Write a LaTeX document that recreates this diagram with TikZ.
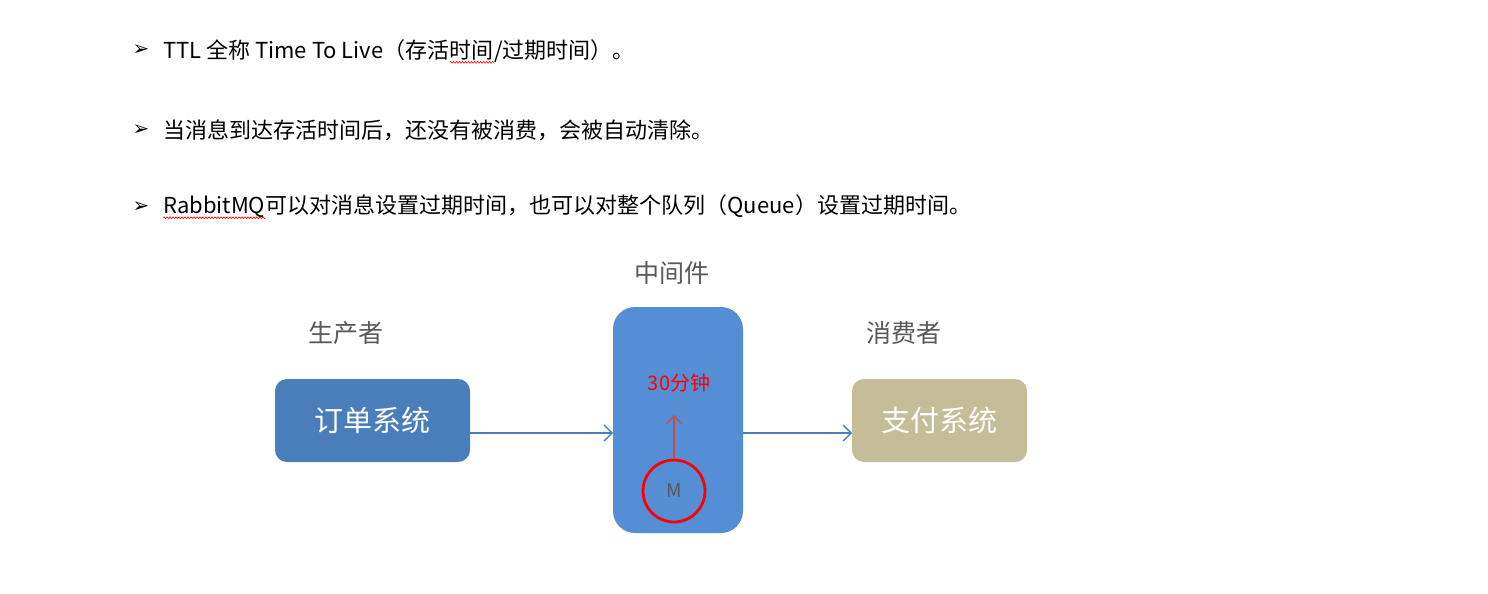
\documentclass[tikz,border=0pt]{standalone}
\usepackage{fontspec}
\setmainfont{Noto Sans CJK SC}
\newfontfamily\dejavu{DejaVu Sans}
\usetikzlibrary{arrows.meta,decorations.pathmorphing}
\definecolor{boxblue}{HTML}{4A7EBB}
\definecolor{midblue}{HTML}{558ED5}
\definecolor{tan}{HTML}{C4BD97}
\definecolor{graytxt}{HTML}{595959}
\definecolor{arrred}{HTML}{C0504D}
\tikzset{
  bodytext/.style={anchor=west, inner sep=0pt, font=\fontsize{22}{22}\selectfont},
  bodypart/.style={anchor=base west, inner sep=0pt, font=\fontsize{22}{22}\selectfont},
  bulletmark/.style={anchor=center, inner sep=0pt, font=\dejavu\fontsize{20}{20}\selectfont},
  lbl/.style={inner sep=0pt, text=graytxt, font=\fontsize{25}{25}\selectfont},
  sysbox/.style={rounded corners=12pt, minimum width=195pt, minimum height=83pt, inner sep=0pt, text=white, font=\fontsize{29}{29}\selectfont},
  flow/.style={draw=boxblue, line width=1.4pt, -{Straight Barb[length=8pt,width=16pt,line width=1.4pt]}},
  squig/.style={red, line width=0.6pt, decorate, decoration={snake, amplitude=0.9pt, segment length=3pt}}
}
\begin{document}
\begin{tikzpicture}[x=1pt,y=-1pt]
\useasboundingbox[fill=white] (0,0) rectangle (1488,594);

% bullets
\node[bulletmark] (b1) at (141,50) {➢};
\node[bulletmark] (b2) at (141,130) {➢};
\node[bulletmark] (b3) at (141,207) {➢};

% line 1 (split so the spell-check mark sits under 时间)
\node[bodytext] (t1a) at (163,50) {TTL 全称 Time To Live（存活};
\node[bodypart] (t1b) at (t1a.base east) {时间};
\node[bodypart] (t1c) at (t1b.base east) {/过期时间）。};
\draw[squig] ([yshift=-4pt]t1b.base west) -- ([yshift=-4pt]t1b.base east);

\node[bodytext] (t2) at (163,130) {当消息到达存活时间后，还没有被消费，会被自动清除。};

% line 3
\node[bodytext] (t3a) at (163,207) {RabbitMQ};
\node[bodypart] (t3b) at (t3a.base east) {可以对消息设置过期时间，也可以对整个队列（Queue）设置过期时间。};
\draw[squig] ([yshift=-4pt]t3a.base west) -- ([yshift=-4pt]t3a.base east);

% labels
\node[lbl] (lmid) at (672,273) {中间件};
\node[lbl] (lprod) at (346,333) {生产者};
\node[lbl] (lcons) at (904,333) {消费者};

% boxes
\node[sysbox, fill=boxblue, minimum width=195pt] (order) at (372.5,420.5) {订单系统};
\node[rounded corners=22pt, fill=midblue, minimum width=130pt, minimum height=226pt, inner sep=0pt] (mid) at (678,420) {};
\node[sysbox, fill=tan, minimum width=175pt] (pay) at (939.5,420.5) {支付系统};

% flow arrows
\coordinate (o1) at (470,433);
\coordinate (m1) at (613,433);
\coordinate (m2) at (743,433);
\coordinate (p1) at (852,433);
\draw[flow] (o1) -- (m1);
\draw[flow] (m2) -- (p1);

% message
\node[circle, draw=red, line width=2.8pt, minimum size=62pt, inner sep=0pt, text=graytxt, font=\fontsize{19}{19}\selectfont] (msg) at (674,491) {M};
\node[inner sep=0pt, text=red, font=\fontsize{20}{20}\selectfont] (ttl) at (679,383) {30分钟};
\coordinate (up) at (674,415);
\draw[draw=arrred, line width=1.4pt, -{Straight Barb[length=8pt,width=16pt,line width=1.4pt]}] (msg.north) -- (up);
\end{tikzpicture}
\end{document}
